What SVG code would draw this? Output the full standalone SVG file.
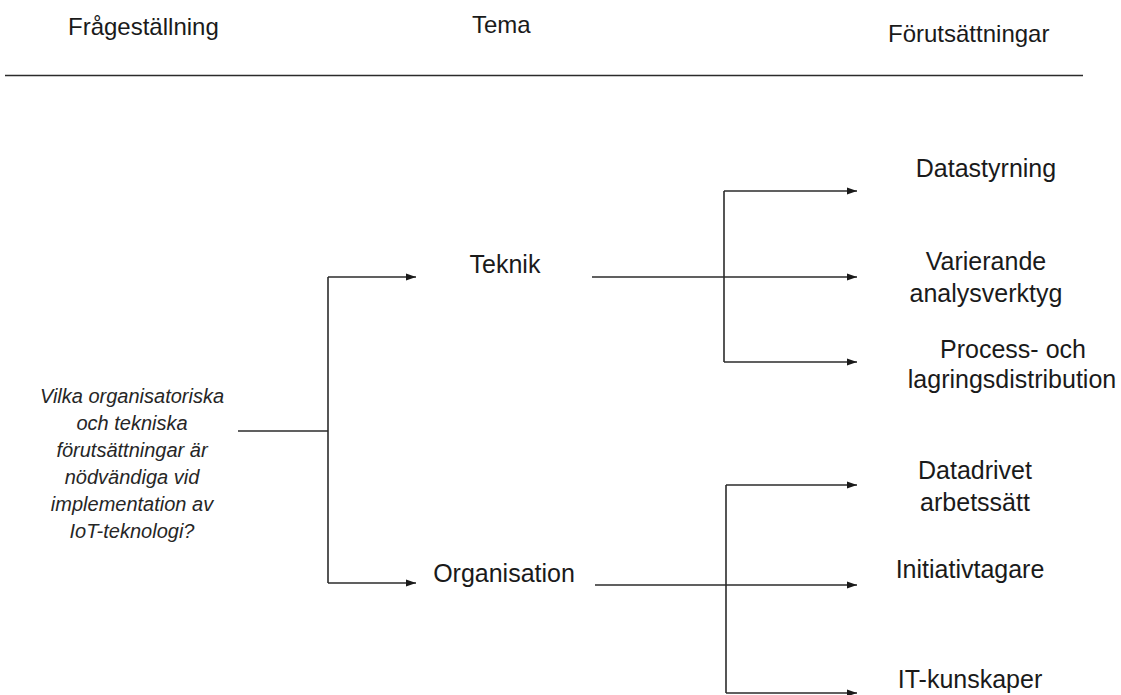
<svg xmlns="http://www.w3.org/2000/svg" width="1121" height="695" viewBox="0 0 1121 695">
<style>
text{font-family:"Liberation Sans",Arial,sans-serif;fill:#1a1a1a;}
.h{font-size:24px;}
.n{font-size:25px;text-anchor:middle;}
.q{font-size:20px;font-style:italic;text-anchor:middle;fill:#262626;}
.c{fill:none;stroke:#2b2b2b;stroke-width:1.6;}
.a{marker-end:url(#arr);}
</style>
<defs>
<marker id="arr" markerUnits="userSpaceOnUse" markerWidth="10" markerHeight="8" refX="10" refY="4" orient="auto">
<path d="M0,0.5 L10,4 L0,7.5 Z" fill="#1a1a1a"/>
</marker>
</defs>
<rect width="1121" height="695" fill="#ffffff"/>
<g id="headers">
<text class="h" x="68" y="35">Frågeställning</text>
<text class="h" x="472" y="33">Tema</text>
<text class="h" x="888" y="42">Förutsättningar</text>
<line class="c" x1="5" y1="75.5" x2="1083" y2="75.5"/>
</g>
<g id="question">
<text class="q" x="132" y="403">Vilka organisatoriska</text>
<text class="q" x="132" y="430">och tekniska</text>
<text class="q" x="132" y="457">förutsättningar är</text>
<text class="q" x="132" y="484">nödvändiga vid</text>
<text class="q" x="132" y="511">implementation av</text>
<text class="q" x="132" y="538">IoT-teknologi?</text>
</g>
<g id="teknik"><text class="n" x="505" y="273">Teknik</text></g>
<g id="organisation"><text class="n" x="504" y="582">Organisation</text></g>
<g id="datastyrning"><text class="n" x="986" y="177">Datastyrning</text></g>
<g id="analysverktyg">
<text class="n" x="986" y="270">Varierande</text>
<text class="n" x="986" y="302">analysverktyg</text>
</g>
<g id="distribution">
<text class="n" x="1013" y="358">Process- och</text>
<text class="n" x="1012" y="388">lagringsdistribution</text>
</g>
<g id="datadrivet">
<text class="n" x="975" y="479">Datadrivet</text>
<text class="n" x="975" y="511">arbetssätt</text>
</g>
<g id="initiativtagare"><text class="n" x="970" y="578">Initiativtagare</text></g>
<g id="itkunskaper"><text class="n" x="970" y="688">IT-kunskaper</text></g>
<g id="connectors">
<path class="c" d="M238,431 H328"/>
<path class="c" d="M328,277 V583"/>
<path class="c a" d="M328,277 H416"/>
<path class="c a" d="M328,583 H416"/>
<path class="c" d="M592,277 H724"/>
<path class="c" d="M724,191 V362"/>
<path class="c a" d="M724,191 H857"/>
<path class="c a" d="M724,277 H857"/>
<path class="c a" d="M724,362 H857"/>
<path class="c" d="M595,585 H726"/>
<path class="c" d="M726,485 V693"/>
<path class="c a" d="M726,485 H857"/>
<path class="c a" d="M726,585 H857"/>
<path class="c a" d="M726,693 H857"/>
</g>
</svg>
